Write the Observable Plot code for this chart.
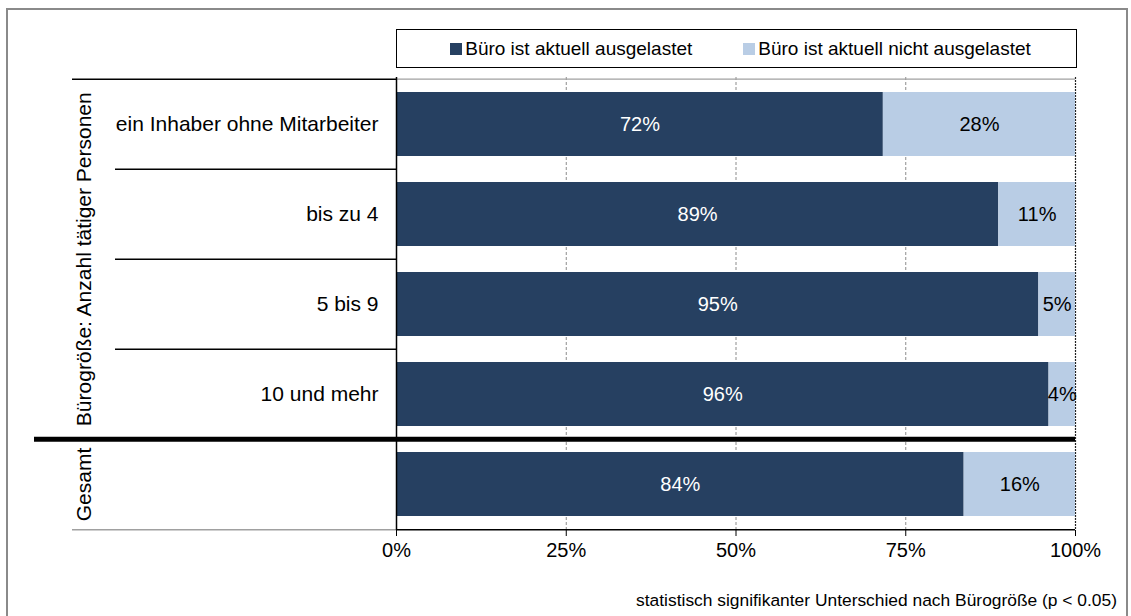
<!DOCTYPE html>
<html>
<head>
<meta charset="utf-8">
<script src="https://cdn.jsdelivr.net/npm/d3@7"></script>
<script src="https://cdn.jsdelivr.net/npm/@observablehq/plot@0.6"></script>
<style>
  html, body { margin: 0; padding: 0; background: #fff; }
  body { width: 1131px; height: 616px; position: relative; overflow: hidden; font-family: "Liberation Sans", Arial, sans-serif; color: #000; }
  #frame { position: absolute; left: 6px; top: 8px; width: 1122px; height: 620px; border: 2px solid #8a8a8a; box-sizing: border-box; }
  #chart { position: absolute; left: 0; top: 0; }
  #legend { position: absolute; left: 396px; top: 29px; width: 681px; height: 39px; border: 1.5px solid #000; box-sizing: border-box;
            display: flex; align-items: center; justify-content: center; gap: 51px; font-size: 19px; padding-left: 8px; }
  .item { display: flex; align-items: center; gap: 3px; white-space: nowrap; }
  .sw { width: 12px; height: 12px; display: inline-block; }
  #caption { position: absolute; right: 14px; top: 589px; font-size: 17.4px; line-height: 22px; white-space: nowrap; }
</style>
</head>
<body>
<div id="frame"></div>
<div id="chart"></div>
<div id="legend"></div>
<div id="caption"></div>
<script>
// ---- data ----
const categories = ["ein Inhaber ohne Mitarbeiter", "bis zu 4", "5 bis 9", "10 und mehr", "Gesamt"];
const groupLabels = ["Bürogröße: Anzahl tätiger Personen", "Gesamt"];
const seriesNames = ["Büro ist aktuell ausgelastet", "Büro ist aktuell nicht ausgelastet"];
const busy = [71.7, 88.7, 94.6, 96.1, 83.6];
const notBusy = [28.3, 11.3, 5.4, 3.9, 16.4];
const seriesColors = ["#264061", "#B9CDE5"];
const xTicks = [0, 25, 50, 75, 100];
const captionText = "statistisch signifikanter Unterschied nach Bürogröße (p < 0.05)";

// ---- table ----
const rows = [];
categories.forEach((c, i) => {
  rows.push({cat: c, s: 0, series: seriesNames[0], value: busy[i]});
  rows.push({cat: c, s: 1, series: seriesNames[1], value: notBusy[i]});
});

const W = 1131, H = 616;
const mT = 77, mB = 86, mL = 396, mR = 56;
const bw = (H - mT - mB) / categories.length;
const half = bw / 2;
const plotW = W - mL - mR;
const fmt = v => Math.round(v) + "%";
const font = "'Liberation Sans', Arial, sans-serif";

const chart = Plot.plot({
  width: W,
  height: H,
  marginTop: mT, marginBottom: mB, marginLeft: mL, marginRight: mR,
  style: {fontFamily: font, fontSize: "20px", background: "transparent", overflow: "visible", color: "#000"},
  x: {domain: [0, 100], ticks: xTicks, label: null},
  y: {domain: categories, padding: 0, label: null},
  color: {domain: seriesNames, range: seriesColors},
  marks: [
    // grid
    Plot.ruleX(xTicks.slice(1, 4), {stroke: "#8c8c8c", strokeDasharray: "3,2", strokeWidth: 1}),
    Plot.ruleX(xTicks.slice(4), {stroke: "#222", strokeDasharray: "2,1", strokeWidth: 1.2}),
    // top border of plot area (gray)
    Plot.ruleY(categories.slice(0, 1), {y: d => d, dy: -half, stroke: "#a0a0a0", strokeWidth: 1.2}),
    // bars
    Plot.barX(rows, {x: "value", y: "cat", fill: "series", insetTop: 13, insetBottom: 13}),
    // value labels
    Plot.text(rows, Plot.stackX({x: "value", y: "cat", text: d => d.s === 0 ? fmt(d.value) : null, fill: "white", fontSize: 20})),
    Plot.text(rows, Plot.stackX({x: "value", y: "cat", text: d => d.s === 1 ? fmt(d.value) : null, fill: "black", fontSize: 20})),
    // left-side row separators
    Plot.ruleY(categories.slice(0, 1), {y: d => d, dy: -half, insetLeft: -(mL - 72), insetRight: plotW, stroke: "#000", strokeWidth: 1.5}),
    Plot.ruleY(categories.slice(1, 4), {y: d => d, dy: -half, insetLeft: -(mL - 115), insetRight: plotW, stroke: "#000", strokeWidth: 1.5}),
    Plot.ruleY(categories.slice(4), {y: d => d, dy: half, insetLeft: -(mL - 72), insetRight: plotW, stroke: "#a0a0a0", strokeWidth: 1.5}),
    // bottom axis line
    Plot.ruleY(categories.slice(4), {y: d => d, dy: half, stroke: "#000", strokeWidth: 1.5}),
    // thick separator before Gesamt
    Plot.ruleY(categories.slice(4), {y: d => d, dy: -half, insetLeft: -(mL - 34), stroke: "#000", strokeWidth: 5}),
    // y axis line
    Plot.ruleX([0], {stroke: "#000", strokeWidth: 1.5}),
    // axes
    Plot.axisX({ticks: xTicks, tickFormat: d => d + "%", tickSize: 6, tickPadding: 6, fontSize: 20, label: null, stroke: "#000"}),
    Plot.axisY({tickSize: 0, tickPadding: 18, fontSize: 21, label: null, tickFormat: d => d === "Gesamt" ? "" : d}),
    // rotated group labels
    Plot.text(groupLabels.slice(0, 1), {text: d => d, y: () => categories[2], dy: -half, frameAnchor: "left", dx: -(mL - 84), rotate: -90, textAnchor: "middle", fontSize: 21, fill: "#000"}),
    Plot.text(groupLabels.slice(1), {text: d => d, y: () => categories[4], frameAnchor: "left", dx: -(mL - 84), rotate: -90, textAnchor: "middle", fontSize: 21, fill: "#000"})
  ]
});
document.getElementById("chart").appendChild(chart);

// legend
const legend = document.getElementById("legend");
seriesNames.forEach((name, i) => {
  const item = document.createElement("div");
  item.className = "item";
  const sw = document.createElement("span");
  sw.className = "sw";
  sw.style.background = seriesColors[i];
  const t = document.createElement("span");
  t.textContent = name;
  item.appendChild(sw);
  item.appendChild(t);
  legend.appendChild(item);
});
document.getElementById("caption").textContent = captionText;
</script>
</body>
</html>
